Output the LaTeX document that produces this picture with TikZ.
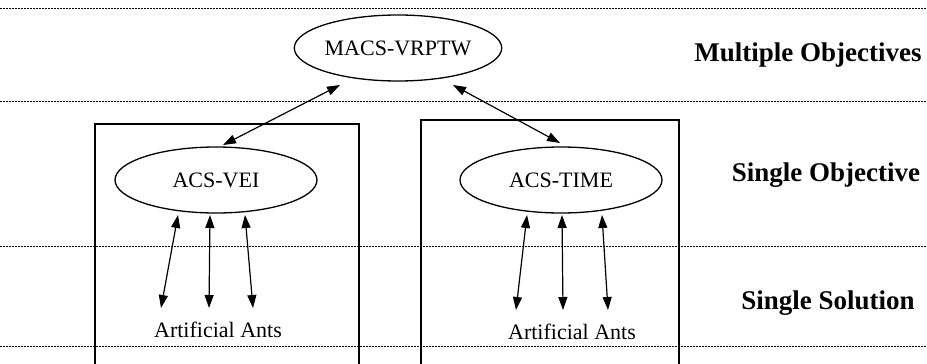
\documentclass[tikz,border=0pt]{standalone}
\usepackage{fontspec}
\setmainfont{Liberation Serif}
\usetikzlibrary{shapes.geometric,arrows.meta}
\begin{document}
\begin{tikzpicture}[x=1pt,y=-1pt,
  sep/.style={line width=0.8pt,dash pattern=on 2pt off 1pt},
  oval/.style={ellipse,draw,line width=1.3pt,inner sep=0pt,font=\fontsize{22}{26}\selectfont},
  frame/.style={line width=1.1pt},
  lvl/.style={font=\fontsize{27}{32}\selectfont\bfseries},
  ants/.style={font=\fontsize{22}{26}\selectfont},
  link/.style={line width=1.2pt,{Triangle[length=13pt,width=9pt]}-{Triangle[length=13pt,width=9pt]}}]
\useasboundingbox (0,0) rectangle (927,364);
% separator lines
\draw[sep] (0,8) -- (927,8);
\draw[sep] (0,101) -- (927,101);
\draw[sep] (0,246) -- (927,246);
\draw[sep] (0,346) -- (927,346);
% frames
\draw[frame] (95,368) -- (95,124) -- (359,124) -- (359,368);
\draw[frame] (421,368) -- (421,120) -- (679,120) -- (679,368);
% nodes
\node[oval,minimum width=204pt,minimum height=66pt] (macs) at (398,48) {MACS-VRPTW};
\node[oval,minimum width=202pt,minimum height=66pt] (vei) at (216,180) {ACS-VEI};
\node[oval,minimum width=202pt,minimum height=66pt] (time) at (561,180) {ACS-TIME};
\node[ants] (antsL) at (218,330) {Artificial Ants};
\node[ants] (antsR) at (572,332) {Artificial Ants};
\node[lvl] (l1) at (808,55) {Multiple Objectives};
\node[lvl] (l2) at (826,175) {Single Objective};
\node[lvl] (l3) at (828,303) {Single Solution};
% connector end points
\coordinate (m1) at (340,85);
\coordinate (v1) at (223,145);
\coordinate (m2) at (453,85);
\coordinate (t1) at (560,143);
\coordinate (a1) at (178,215); \coordinate (b1) at (161,308);
\coordinate (a2) at (210,215); \coordinate (b2) at (209,308);
\coordinate (a3) at (245,215); \coordinate (b3) at (253,308);
\coordinate (c1) at (527,215); \coordinate (d1) at (516,310);
\coordinate (c2) at (562,215); \coordinate (d2) at (563,310);
\coordinate (c3) at (602,215); \coordinate (d3) at (608,310);
% connectors
\draw[link] (m1) -- (v1);
\draw[link] (m2) -- (t1);
\draw[link] (a1) -- (b1);
\draw[link] (a2) -- (b2);
\draw[link] (a3) -- (b3);
\draw[link] (c1) -- (d1);
\draw[link] (c2) -- (d2);
\draw[link] (c3) -- (d3);
\end{tikzpicture}
\end{document}
